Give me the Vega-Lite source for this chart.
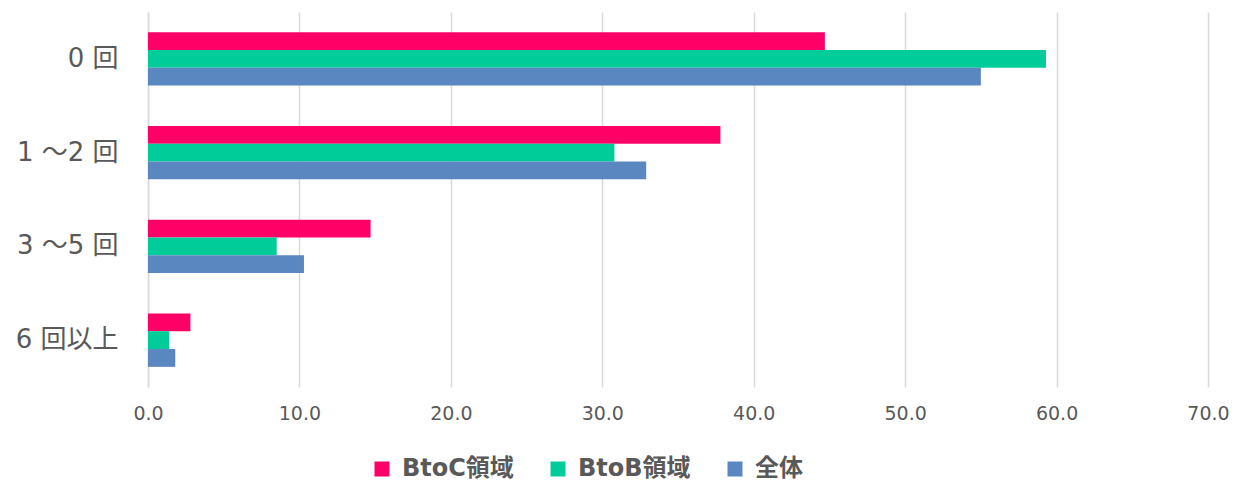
{
  "$schema": "https://vega.github.io/schema/vega-lite/v6.json",
  "autosize": {"type": "none"},
  "width": 1060,
  "height": 375,
  "padding": {"left": 148, "top": 12, "right": 36, "bottom": 95},
  "background": "white",
  "config": {
    "font": "DejaVu Sans, Noto Sans CJK JP",
    "view": {"stroke": null}
  },
  "data": {
    "values": [
      {"cat": "0 回", "series": "BtoC領域", "value": 44.7},
      {"cat": "0 回", "series": "BtoB領域", "value": 59.3},
      {"cat": "0 回", "series": "全体", "value": 55.0},
      {"cat": "1 ～2 回", "series": "BtoC領域", "value": 37.8},
      {"cat": "1 ～2 回", "series": "BtoB領域", "value": 30.8},
      {"cat": "1 ～2 回", "series": "全体", "value": 32.9},
      {"cat": "3 ～5 回", "series": "BtoC領域", "value": 14.7},
      {"cat": "3 ～5 回", "series": "BtoB領域", "value": 8.5},
      {"cat": "3 ～5 回", "series": "全体", "value": 10.3},
      {"cat": "6 回以上", "series": "BtoC領域", "value": 2.8},
      {"cat": "6 回以上", "series": "BtoB領域", "value": 1.4},
      {"cat": "6 回以上", "series": "全体", "value": 1.8}
    ]
  },
  "mark": {"type": "bar"},
  "encoding": {
    "y": {
      "field": "cat",
      "type": "nominal",
      "sort": ["0 回", "1 ～2 回", "3 ～5 回", "6 回以上"],
      "scale": {"paddingInner": 0.43, "paddingOuter": 0.215},
      "axis": {
        "title": null,
        "ticks": false,
        "domain": true,
        "domainColor": "#d9d9d9",
        "domainWidth": 1.5,
        "labelFont": "DejaVu Sans, Noto Sans CJK JP",
        "labelFontSize": 26,
        "labelColor": "#595959",
        "labelPadding": 30
      }
    },
    "yOffset": {
      "field": "series",
      "type": "nominal",
      "sort": ["BtoC領域", "BtoB領域", "全体"],
      "scale": {"paddingInner": 0, "paddingOuter": 0}
    },
    "x": {
      "field": "value",
      "type": "quantitative",
      "scale": {"domain": [0, 70], "nice": false},
      "axis": {
        "title": null,
        "values": [0, 10, 20, 30, 40, 50, 60, 70],
        "format": ".1f",
        "domain": false,
        "ticks": false,
        "grid": true,
        "gridColor": "#d9d9d9",
        "gridWidth": 1.5,
        "labelFont": "DejaVu Sans",
        "labelFontSize": 19,
        "labelColor": "#595959",
        "labelPadding": 17,
        "labelFlush": false
      }
    },
    "color": {
      "field": "series",
      "type": "nominal",
      "sort": ["BtoC領域", "BtoB領域", "全体"],
      "scale": {
        "domain": ["BtoC領域", "BtoB領域", "全体"],
        "range": ["#FF0066", "#00CC99", "#5B87C1"]
      },
      "legend": {
        "title": null,
        "orient": "none",
        "legendX": 222,
        "legendY": 445,
        "direction": "horizontal",
        "symbolType": "square",
        "symbolSize": 225,
        "symbolStrokeWidth": 0,
        "labelFont": "DejaVu Sans, Noto Sans CJK JP",
        "labelFontSize": 24,
        "labelFontWeight": "bold",
        "labelColor": "#595959",
        "labelOffset": 8,
        "columnPadding": 32
      }
    }
  }
}
